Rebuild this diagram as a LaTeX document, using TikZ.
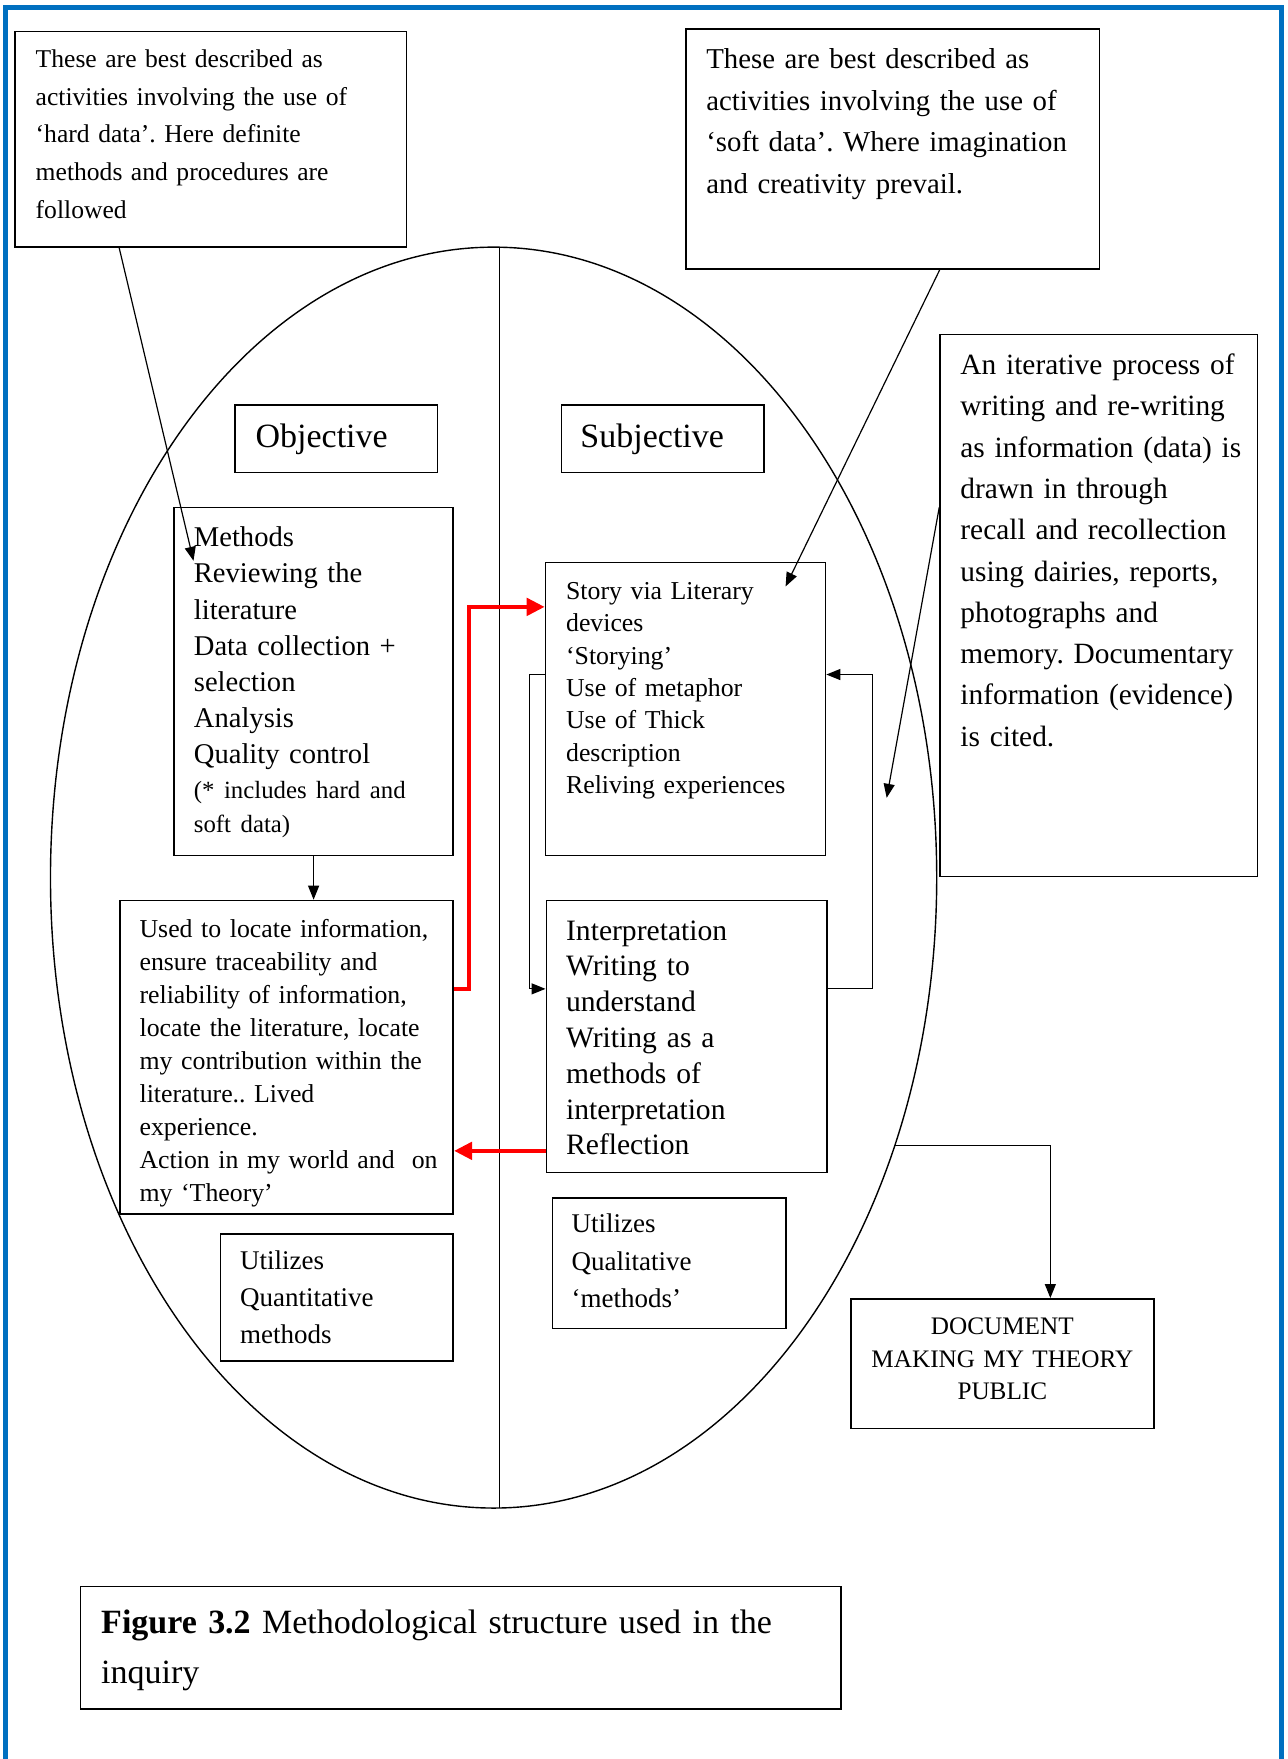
\documentclass[tikz,border=0pt]{standalone}
\usepackage{fontspec}
\setmainfont{Liberation Serif}
\frenchspacing
\usetikzlibrary{fit,positioning}
\usetikzlibrary{arrows.meta}
\definecolor{frameblue}{HTML}{0070C0}
\tikzset{
	box/.style={
		draw=black, line width=0.8pt, inner sep=0pt
	},
	lbl/.style={
		anchor=base west, align=left, inner sep=0pt, text width=250pt
	},
	arr/.style={
		-{Triangle[length=7pt,width=5.5pt]}, line width=0.6pt
	},
	red arr/.style={
		-{Triangle[length=9pt,width=8.5pt]}, draw=red, line width=2.3pt
	},
	blue frame/.style={
		draw=frameblue, line width=2.6pt
	}
}

\begin{document}
\begin{tikzpicture}[x=0.561pt, y=-0.561pt]
	\useasboundingbox (0,0) rectangle (1148,1568);
	\draw[blue frame] (5,1568) |- (1142,6.5) -- (1142,1568);
	
	% the oval, split in two halves
	\draw[line width=0.7pt] (440,782.3) ellipse [x radius=395, y radius=562];
	\draw[line width=0.7pt] (445,220.4) -- (445,1344.3);
	
	% all the boxes
	\foreach \n/\xa/\ya/\xb/\yb in {hard/13.3/28.2/362.4/220.4, soft/611.4/25.8/980.2/240,
		obj/209.7/361/390.1/421.3, subj/500.4/361/681.2/421.3,
		methods/155.3/452.5/403.8/762.6, used/107/802.7/404/1082, quant/196.5/1100/404/1213,
		story/486.3/501.5/735.9/762.5, interp/487/802.7/737/1045.1, qual/492.5/1067.7/700.9/1184.4,
		iter/838/298.1/1121/781.3, doc/758.5/1157.8/1028.5/1273.2, caption/71.6/1414.2/749.6/1523.2} {
		\node[box, fit={(\xa,\ya) (\xb,\yb)}] (\n) {};
	}
	
	\node[lbl, font=\fontsize{12.8}{18.9}\selectfont] (hard-t) at ([shift={(18.9,32.5)}]hard.north west) {
		These are best described as\\ activities involving the use of\\ `hard data'. Here definite\\
		methods and procedures are\\ followed
	};
	\node[lbl, font=\fontsize{14.4}{20.7}\selectfont] (soft-t) at ([shift={(18.6,36.3)}]soft.north west) {
		These are best described as\\ activities involving the use of\\ `soft data'. Where imagination\\
		and creativity prevail.
	};
	\node[lbl, font=\fontsize{17}{20}\selectfont] (obj-t) at ([shift={(18.5,38.6)}]obj.north west) {Objective};
	\node[lbl, font=\fontsize{17}{20}\selectfont] (subj-t) at ([shift={(17.4,38.6)}]subj.north west) {Subjective};
	
	\node[lbl, font=\fontsize{14.3}{18.1}\selectfont] (methods-t) at ([shift={(17.9,35.5)}]methods.north west) {
		Methods\\ Reviewing the\\ literature\\ Data collection +\\ selection\\ Analysis\\ Quality control\par
		{\fontsize{12.4}{17.2}\selectfont (* includes hard and\\ soft data)\par}
	};
	\node[lbl, font=\fontsize{12.9}{16.5}\selectfont] (used-t) at ([shift={(17.8,33.5)}]used.north west) {
		Used to locate information,\\ ensure traceability and\\ reliability of information,\\
		locate the literature, locate\\ my contribution within the\\ literature.. Lived\\ experience.\\
		Action in my world and\ \ on\\ my `Theory'
	};
	\node[lbl, font=\fontsize{13.5}{18.7}\selectfont] (quant-t) at ([shift={(18,32)}]quant.north west) {
		Utilizes\\ Quantitative\\ methods
	};
	
	\node[lbl, font=\fontsize{12.9}{16.2}\selectfont] (story-t) at ([shift={(18.7,33.5)}]story.north west) {
		Story via Literary\\ devices\\ `Storying'\\ Use of metaphor\\ Use of Thick\\ description\\ Reliving experiences
	};
	\node[lbl, font=\fontsize{14.8}{17.9}\selectfont] (interp-t) at ([shift={(18,36)}]interp.north west) {
		Interpretation\\ Writing to\\ understand\\ Writing as a\\ methods of\\ interpretation\\ Reflection
	};
	\node[lbl, font=\fontsize{13.5}{18.7}\selectfont] (qual-t) at ([shift={(17.5,32)}]qual.north west) {
		Utilizes\\ Qualitative\\ `methods'
	};
	
	\node[lbl, font=\fontsize{14.7}{20.65}\selectfont] (iter-t) at ([shift={(18.5,36.5)}]iter.north west) {
		An iterative process of\\ writing and re-writing\\ as information (data) is\\ drawn in through\\
		recall and recollection\\ using dairies, reports,\\ photographs and\\ memory. Documentary\\
		information (evidence)\\ is cited.
	};
	\node[anchor=base, align=center, text width=200pt, inner sep=0pt, font=\fontsize{12.6}{16.2}\selectfont] (doc-t)
		at ([shift={(0,32.8)}]doc.north) {DOCUMENT\\ MAKING MY THEORY\\ PUBLIC};
	
	\node[lbl, text width=400pt, font=\fontsize{17}{25}\selectfont] (caption-t) at ([shift={(19,42.5)}]caption.north west) {
		\textbf{Figure 3.2} Methodological structure used in the\\ inquiry
	};
	
	% connectors
	\coordinate (iter-tip) at (790.4,711.2);
	\coordinate (rim) at (797.5,1021.2);
	\draw[arr] ([shift={(93.7,0)}]hard.south west) -- ([shift={(17.9,48.1)}]methods.north west);
	\draw[arr] ([shift={(226.9,0)}]soft.south west) -- ([shift={(214.7,22)}]story.north west);
	\draw[arr] ([shift={(0,154.7)}]iter.north west) -- (iter-tip);
	\draw[arr] (methods.south) -- (methods.south |- used.north);
	\draw[arr] ([shift={(0,100.5)}]story.north west) -- ++(-13.3,0) |- ([shift={(0,79.5)}]interp.north west);
	\draw[arr] ([shift={(0,79.5)}]interp.north east) -- ++(39.9,0) |- ([shift={(0,100.5)}]story.north east);
	\draw[red arr] ([shift={(0,79.5)}]used.north east) -- ++(13.4,0) |- ([shift={(0,40.2)}]story.north west);
	\draw[red arr] ([shift={(0,223.9)}]interp.north west) coordinate (refl) -- (refl -| used.east);
	\draw[arr] (rim) -| ([shift={(42.8,0)}]doc.north);
\end{tikzpicture}
\end{document}
